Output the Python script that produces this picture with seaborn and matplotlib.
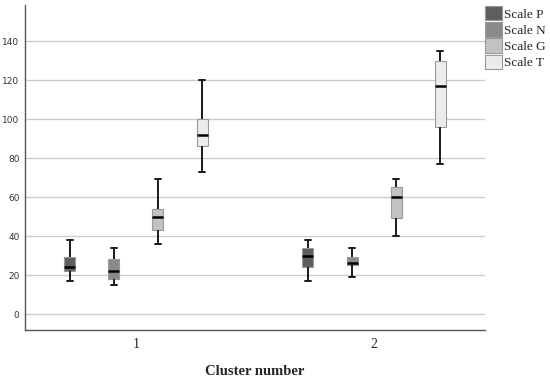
import numpy as np
import pandas as pd
import matplotlib
matplotlib.use("Agg")
import matplotlib.pyplot as plt
import seaborn as sns
from matplotlib.patches import Patch

clusters = ["1", "2"]
scales = ["Scale P", "Scale N", "Scale G", "Scale T"]
# five-number summaries per cluster/scale: min, Q1, median, Q3, max
c1_P = [17, 22, 24, 29, 38]
c1_N = [15, 18, 22, 28, 34]
c1_G = [36, 43, 50, 54, 69]
c1_T = [73, 86, 92, 100, 120]
c2_P = [17, 24, 30, 34, 38]
c2_N = [19, 25, 26, 29, 34]
c2_G = [40, 49, 60, 65, 69]
c2_T = [77, 96, 117, 130, 135]
colors = ["#5e5e5e", "#8a8a8a", "#c2c2c2", "#ececec"]

summ = {
    ("1", "Scale P"): c1_P, ("1", "Scale N"): c1_N, ("1", "Scale G"): c1_G, ("1", "Scale T"): c1_T,
    ("2", "Scale P"): c2_P, ("2", "Scale N"): c2_N, ("2", "Scale G"): c2_G, ("2", "Scale T"): c2_T,
}
rows = []
for (c, s), vals in summ.items():
    for v in vals:
        rows.append({"Cluster number": c, "Scale": s, "value": v})
df = pd.DataFrame(rows)

sns.set_style("white")
fig = plt.figure(figsize=(5.5, 3.81), dpi=100)
ax = fig.add_axes([25/550, 1-330/381, 460/550, 325/381])

sns.boxplot(data=df, x="Cluster number", y="value", hue="Scale", order=clusters,
            hue_order=scales, palette=colors, width=0.74, gap=0.75, whis=(0, 100),
            linewidth=1.0, linecolor="#8a8a8a", ax=ax, saturation=1,
            boxprops=dict(edgecolor="#9a9a9a", linewidth=0.8),
            whiskerprops=dict(color="#1a1a1a", linewidth=1.4),
            capprops=dict(color="#1a1a1a", linewidth=1.4),
            medianprops=dict(color="#000000", linewidth=1.8))

ax.set_xlim(-0.466, 1.466)
ax.set_ylim(-8.2, 158.5)
ax.set_yticks(np.arange(0, 141, 20))
ax.yaxis.grid(True, color="#cccccc", linewidth=1.0)
ax.set_axisbelow(True)
for sp in ["top", "right"]:
    ax.spines[sp].set_visible(False)
for sp in ["left", "bottom"]:
    ax.spines[sp].set_color("#555555")
    ax.spines[sp].set_linewidth(1.0)
ax.tick_params(axis="y", length=0, labelsize=6.5, labelcolor="#333333", pad=4)
ax.tick_params(axis="x", length=0, labelsize=10, pad=6)
for t in ax.get_xticklabels():
    t.set_fontfamily("Liberation Serif")
ax.set_ylabel("")
ax.set_xlabel("Cluster number", fontfamily="Liberation Serif", fontweight="bold",
              fontsize=10.5, labelpad=10)

ax.get_legend().remove()
hs = [Patch(facecolor=col, edgecolor="#999999", linewidth=0.8) for col in colors]
fig.legend(hs, scales, loc="upper left", bbox_to_anchor=(485/550, 1-6/381),
           frameon=False, prop={"family": "Liberation Serif", "size": 9.5},
           handlelength=1.3, handleheight=1.3, labelspacing=0.12,
           handletextpad=0.15, borderaxespad=0, borderpad=0)

fig.savefig("out.png", dpi=100)
